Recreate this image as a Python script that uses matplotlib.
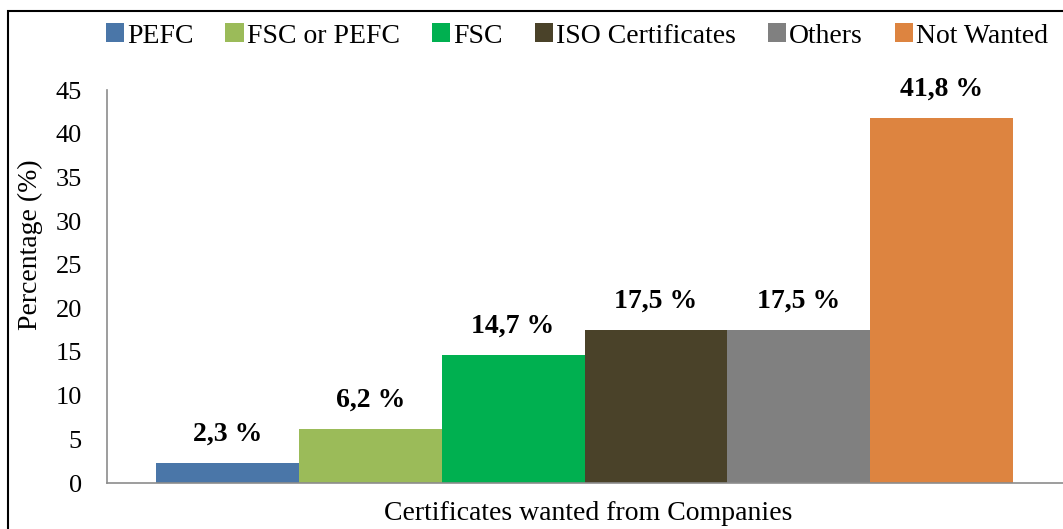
import matplotlib.pyplot as plt
from matplotlib.patches import Rectangle, Patch

# certificate categories and share of companies wanting them (%)
categories = ['PEFC', 'FSC or PEFC', 'FSC', 'ISO Certificates', 'Others', 'Not Wanted']
values = [2.3, 6.2, 14.7, 17.5, 17.5, 41.8]
colors = ['#4A76A8', '#9BBB59', '#00B050', '#4A4229', '#808080', '#DD8440']
y_ticks = [0, 5, 10, 15, 20, 25, 30, 35, 40, 45]

plt.rcParams['font.family'] = ['Liberation Serif', 'DejaVu Serif']

fig = plt.figure(figsize=(10.63, 5.29), dpi=100)
W, H = 1063, 529

# outer chart border (cut off at right and bottom like the original crop)
fig.patches.append(Rectangle((8 / W, -0.1), 1.2, 1 - 11 / H + 0.1, transform=fig.transFigure,
                             fill=False, edgecolor='black', linewidth=1.5, clip_on=False))

ax = fig.add_axes([107 / W, 46 / H, (W - 107) / W, 393 / H])

x = list(range(len(values)))
bars = ax.bar(x, values, width=1.0, color=colors, edgecolor='none')

for xi, v in zip(x, values):
    ax.text(xi, v + 3.3, f"{v:.1f}".replace('.', ',') + ' %', ha='center', va='center',
            fontsize=20, fontweight='bold')

ax.set_xlim(-0.843, 5.85)
ax.set_ylim(0, 45)
ax.set_yticks(y_ticks)
ax.set_xticks([])
ax.tick_params(axis='y', length=0, labelsize=19, pad=18)

for side in ['top', 'right']:
    ax.spines[side].set_visible(False)
for side in ['left', 'bottom']:
    ax.spines[side].set_color('#8C8C8C')
    ax.spines[side].set_linewidth(1.2)

fig.text(30 / W, 1 - 245 / H, 'Percentage (%)', rotation=90, ha='center', va='center', fontsize=20)
fig.text(588 / W, 1 - 513 / H, 'Certificates wanted from Companies', ha='center', va='center',
         fontsize=20)

handles = [Patch(facecolor=c, edgecolor='none') for c in colors]
fig.legend(handles, categories, loc='center', bbox_to_anchor=(577 / W, 1 - 36 / H), ncol=6,
           frameon=False, fontsize=20, handlelength=0.65, handleheight=0.65, handletextpad=0.12,
           columnspacing=1.15, borderaxespad=0)

fig.savefig('out.png', dpi=100)
